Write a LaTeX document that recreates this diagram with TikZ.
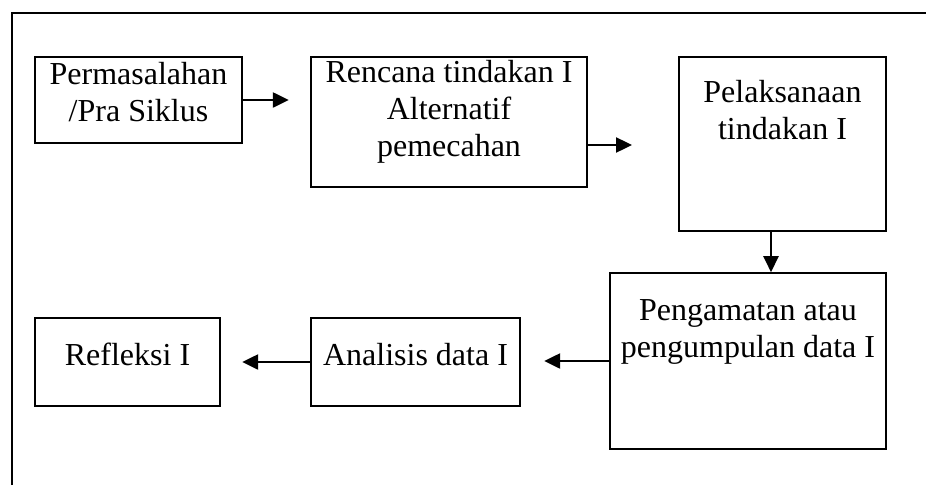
\documentclass[tikz,border=0pt]{standalone}
\usepackage{fontspec}
\setmainfont{Liberation Serif}
\usetikzlibrary{arrows.meta,positioning}
\begin{document}
\begin{tikzpicture}[x=1pt,y=-1pt]
\tikzstyle{box}=[draw, rectangle, line width=1.6pt, inner sep=0pt]
\tikzstyle{txt}=[anchor=north, align=center, inner sep=0pt, font=\fontsize{32}{37}\selectfont]
\tikzstyle{line}=[draw, line width=2.4pt, -{Triangle[length=16pt,width=15pt]}]
\tikzstyle{frame}=[draw, line width=1.8pt]

\useasboundingbox (0,0) rectangle (926,485);

% Frame
\draw[frame] (12,485) -- (12,13) -- (926,13);

% Define boxes
\node[box, minimum width=207pt, minimum height=86pt] (perm) at (138.5,100) {};
\node[box, minimum width=276pt, minimum height=130pt] (renc) at (449,122) {};
\node[box, minimum width=207pt, minimum height=174pt] (pel) at (782.5,144) {};
\node[box, minimum width=276pt, minimum height=176pt] (peng) at (748,361) {};
\node[box, minimum width=209pt, minimum height=88pt] (anal) at (415.5,362) {};
\node[box, minimum width=185pt, minimum height=88pt] (refl) at (127.5,362) {};

% Box texts
\node[txt, below=6pt of perm.north] (perm-t) {Permasalahan\\/Pra Siklus};
\node[txt, below=4pt of renc.north] (renc-t) {Rencana tindakan I\\Alternatif\\pemecahan};
\node[txt, below=24pt of pel.north] (pel-t) {Pelaksanaan\\tindakan I};
\node[txt, below=27pt of peng.north] (peng-t) {Pengamatan atau\\pengumpulan data I};
\node[txt, below=26pt of anal.north] (anal-t) {Analisis data I};
\node[txt, below=26pt of refl.north] (refl-t) {Refleksi I};

% Arrow ends
\coordinate (p1) at ([xshift=46pt]perm.east);
\coordinate (p2) at (632,145);
\coordinate (c3) at (771,0);
\coordinate (p4) at ([xshift=-65pt]peng.west);
\coordinate (p5) at ([xshift=-68pt]anal.west);

% Flow
\draw[line] (perm.east) -- (p1);
\draw[line] (renc.east |- p2) -- (p2);
\draw[line] (pel.south -| c3) -- (peng.north -| c3);
\draw[line] (peng.west) -- (p4);
\draw[line] (anal.west) -- (p5);
\end{tikzpicture}
\end{document}
